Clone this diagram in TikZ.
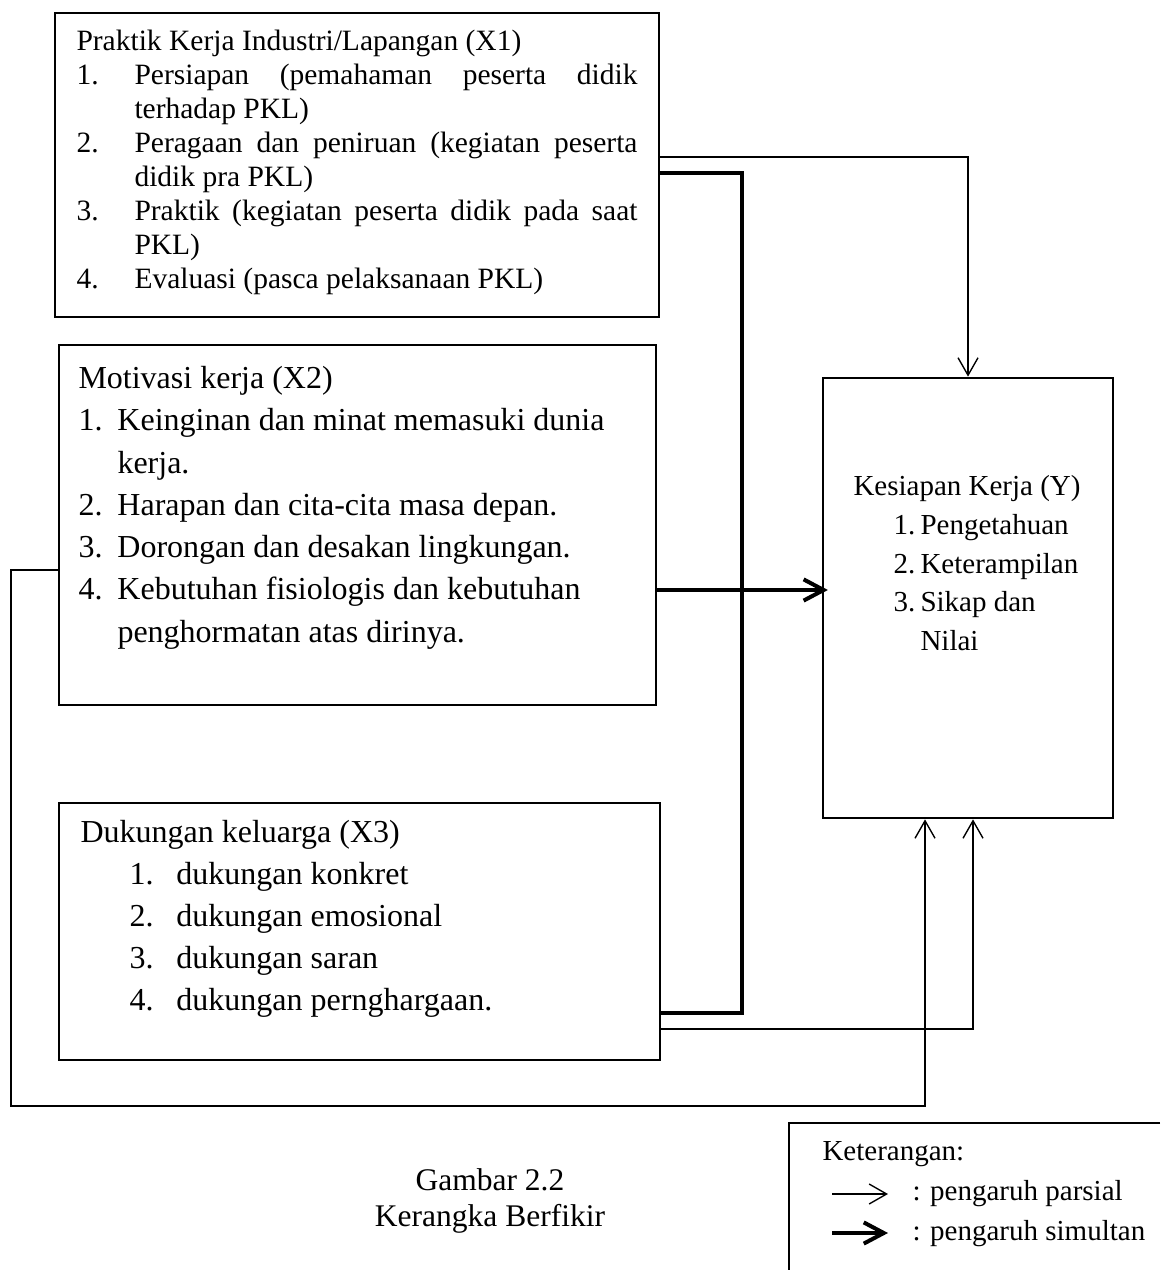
\documentclass[tikz,border=0pt]{standalone}
\usepackage{fontspec}
\setmainfont{Liberation Serif}
\usetikzlibrary{arrows.meta,calc}

\tikzset{
  kotak/.style={draw, line width=1.1pt, inner sep=0pt},
  teks/.style={anchor=north west, inner sep=0pt, align=left},
  parsial/.style={line width=.55pt, -{Straight Barb[length=7pt,width=8pt]}},
  simultan/.style={line width=1.6pt, -{Straight Barb[length=8pt,width=8.5pt]}},
  garis/.style={line width=1.6pt}
}

\begin{document}
\begin{tikzpicture}[x=0.4pt,y=-0.4pt]
\useasboundingbox (0,0) rectangle (1160,1270);

% X1
 \node[kotak, minimum width=241.6pt, minimum height=121.6pt] (x1) at (357,165) {};
 \node[teks, font=\fontsize{11.8}{13.6}\selectfont] (x1t) at (76,29.6) {Praktik Kerja Industri/Lapangan (X1)\\
 \makebox[23.2pt][l]{1.}\makebox[201.2pt][s]{Persiapan (pemahaman peserta didik}\\
 \hspace*{23.2pt}terhadap PKL)\\
 \makebox[23.2pt][l]{2.}\makebox[201.2pt][s]{Peragaan dan peniruan (kegiatan peserta}\\
 \hspace*{23.2pt}didik pra PKL)\\
 \makebox[23.2pt][l]{3.}\makebox[201.2pt][s]{Praktik (kegiatan peserta didik pada saat}\\
 \hspace*{23.2pt}PKL)\\
 \makebox[23.2pt][l]{4.}Evaluasi (pasca pelaksanaan PKL)};

% X2
 \node[kotak, minimum width=238.8pt, minimum height=144pt] (x2) at (357.5,525) {};
 \node[teks, font=\fontsize{12.8}{16.9}\selectfont] (x2t) at (78,366) {Motivasi kerja (X2)\\
 \makebox[15.6pt][l]{1.}Keinginan dan minat memasuki dunia\\
 \hspace*{15.6pt}kerja.\\
 \makebox[15.6pt][l]{2.}Harapan dan cita-cita masa depan.\\
 \makebox[15.6pt][l]{3.}Dorongan dan desakan lingkungan.\\
 \makebox[15.6pt][l]{4.}Kebutuhan fisiologis dan kebutuhan\\
 \hspace*{15.6pt}penghormatan atas dirinya.};

% X3
 \node[kotak, minimum width=240.4pt, minimum height=102.8pt] (x3) at (359.5,931.5) {};
 \node[teks, font=\fontsize{12.8}{16.8}\selectfont] (x3t) at (80,820) {Dukungan keluarga (X3)\\
 \hspace*{19.6pt}\makebox[18.8pt][l]{1.}dukungan konkret\\
 \hspace*{19.6pt}\makebox[18.8pt][l]{2.}dukungan emosional\\
 \hspace*{19.6pt}\makebox[18.8pt][l]{3.}dukungan saran\\
 \hspace*{19.6pt}\makebox[18.8pt][l]{4.}dukungan pernghargaan.};

% Y
 \node[kotak, minimum width=116pt, minimum height=176pt] (y) at (968,598) {};
 \node[teks, font=\fontsize{11.6}{15.5}\selectfont] (yt) at (853,475) {Kesiapan Kerja (Y)\\
 \hspace*{16pt}\makebox[10.8pt][l]{1.}Pengetahuan\\
 \hspace*{16pt}\makebox[10.8pt][l]{2.}Keterampilan\\
 \hspace*{16pt}\makebox[10.8pt][l]{3.}Sikap dan\\
 \hspace*{26.8pt}Nilai};

% Arrows
 \coordinate (k1) at (968,157);
 \coordinate (k3) at (973,1029);
 \coordinate (k2a) at (11,570);
 \coordinate (k2b) at (925,1106);
 \coordinate (s1) at (742,173);
 \coordinate (s2) at (742,590);
 \coordinate (s3) at (742,1013);
 \draw [parsial] (x1.east |- k1) -| (y.north -| k1);
 \draw [parsial] (x3.east |- k3) -| (y.south -| k3);
 \draw [parsial] (x2.west |- k2a) -- (k2a) |- (k2b) -- (y.south -| k2b);
 \draw [garis] (x1.east |- s1) -- (s1) -- (s3) -- (x3.east |- s3);
 \draw [simultan, shorten >=-2.5pt] (x2.east |- s2) -- (y.west |- s2);

% Caption
 \node[anchor=north, inner sep=0pt, align=center, font=\fontsize{12.6}{14.4}\selectfont] (judul) at (490,1168.5) {Gambar 2.2\\Kerangka Berfikir};

% Keterangan
 \coordinate (ka) at (1160,1123);
 \coordinate (kb) at (789,1270);
 \draw [line width=.55pt] (ka) -| (kb);
 \node[teks, font=\fontsize{11.6}{16}\selectfont] (ket) at (822,1141) {Keterangan:\\
 \hspace*{36pt}: pengaruh parsial\\
 \hspace*{36pt}: pengaruh simultan};
 \coordinate (p1) at (832,1194);
 \coordinate (p2) at (888,1194);
 \coordinate (q1) at (832,1233);
 \coordinate (q2) at (888,1233);
 \draw [parsial] (p1) -- (p2);
 \draw [simultan] (q1) -- (q2);

\end{tikzpicture}
\end{document}
